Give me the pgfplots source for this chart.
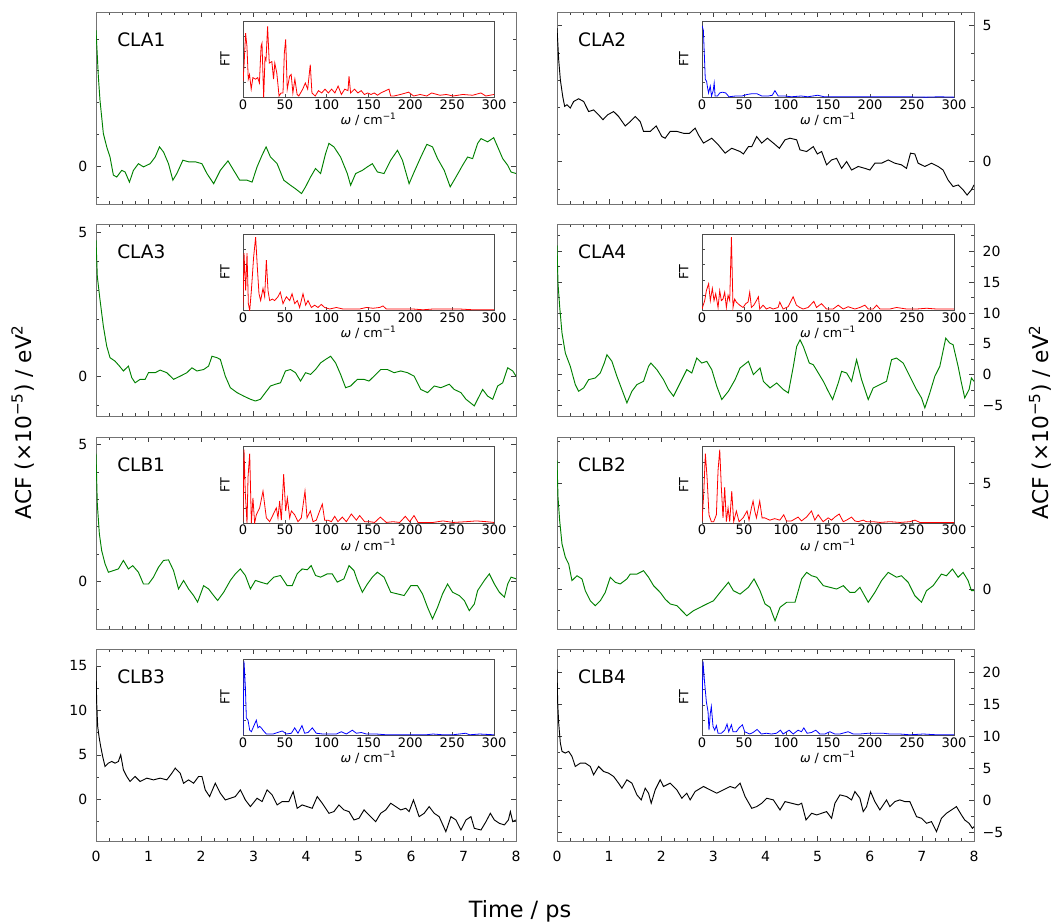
\documentclass[border=0pt]{standalone}
\usepackage{fontspec}
\setmainfont{DejaVu Sans}
\usepackage{pgfplots}
\pgfplotsset{compat=1.18}

\definecolor{mplgreen}{RGB}{0,128,0}
\definecolor{framegray}{gray}{0.45}

\tikzset{plabel/.style={anchor=base west, inner sep=0pt, font=\fontsize{13.9}{16}\selectfont}}

\pgfplotsset{
  panel/.style={
    scale only axis, height=144pt, anchor=north west,
    xmin=0, xmax=8, xtick={0,...,8}, minor x tick num=3,
    tick align=inside,
    major tick length=3.5pt, minor tick length=2pt,
    axis line style={framegray}, every tick/.style={black!75},
    tick label style={font=\fontsize{10.5}{12}\selectfont},
    /pgf/number format/assume math mode=true,
    xticklabels={},
  },
  lcol/.style={panel, width=315pt, yticklabel pos=left, ytick pos=both, xtick pos=both,
    yticklabel style={xshift=-3pt}},
  rcol/.style={panel, width=312.75pt, yticklabel pos=right, ytick pos=both, xtick pos=both,
    yticklabel style={xshift=3pt}},
  bottomrow/.style={xticklabels={0,1,2,3,4,5,6,7,8}, xticklabel style={yshift=-4pt}},
  inset/.style={
    scale only axis, height=57.4pt, anchor=north west,
    xmin=0, xmax=300, ymin=0, ymax=1,
    xtick={0,50,...,300}, ytick={0.2,0.4,0.6,0.8}, yticklabels={},
    tick align=inside, xtick pos=bottom, ytick pos=left, major tick length=2.5pt,
    axis line style={black!70}, every tick/.style={black!70},
    axis background/.style={fill=white},
    tick label style={font=\fontsize{9.8}{11}\selectfont},
    /pgf/number format/assume math mode=true,
    xticklabel style={inner sep=1.2pt},
    xlabel={\textit{ω} / cm\textsuperscript{−1}},
    ylabel={FT},
    label style={font=\fontsize{9.5}{11}\selectfont},
    xlabel style={at={(axis description cs:0.5,-0.29)}, anchor=center},
    ylabel style={at={(axis description cs:-0.035,0.5)}, anchor=south},
  },
  linset/.style={inset, width=188.25pt},
  rinset/.style={inset, width=189pt},
}

\begin{document}
\begin{tikzpicture}
\path[use as bounding box] (0,0) rectangle (796.5pt,-691.5pt);

% ---------------- row 1 ----------------
\begin{axis}[lcol, at={(72pt,-9pt)}, ymin=-1.2, ymax=4.85, ytick={0,5}, minor ytick={-1,1,2,3,4}]
\addplot[mplgreen, line width=0.7pt] coordinates {
(0.000,4.28)(0.045,2.81)(0.076,2.07)(0.140,1.02)(0.204,0.60)(0.267,0.28)(0.331,-0.29)(0.395,-0.35)
(0.490,-0.14)(0.554,-0.19)(0.637,-0.51)(0.713,-0.14)(0.808,0.07)(0.904,-0.03)(1.031,0.07)(1.127,0.28)
(1.209,0.60)(1.286,0.44)(1.381,0.07)(1.464,-0.45)(1.540,-0.24)(1.655,0.18)(1.763,0.13)(1.891,0.13)
(2.018,0.07)(2.113,-0.24)(2.241,-0.56)(2.368,-0.14)(2.514,0.16)(2.623,-0.14)(2.737,-0.45)(2.877,-0.45)
(2.973,-0.51)(3.068,-0.03)(3.164,0.34)(3.240,0.60)(3.323,0.28)(3.450,0.07)(3.577,-0.45)(3.705,-0.61)
(3.800,-0.72)(3.915,-0.87)(3.991,-0.66)(4.087,-0.35)(4.182,-0.08)(4.278,-0.24)(4.373,0.39)(4.437,0.71)
(4.532,0.60)(4.659,0.28)(4.787,-0.24)(4.850,-0.61)(4.946,-0.24)(5.073,-0.14)(5.169,-0.03)(5.264,0.07)
(5.360,-0.19)(5.487,-0.24)(5.614,0.18)(5.742,0.49)(5.837,0.18)(5.964,-0.56)(6.060,-0.19)(6.187,0.28)
(6.302,0.68)(6.410,0.60)(6.506,0.23)(6.633,-0.14)(6.747,-0.66)(6.856,-0.35)(6.983,0.02)(7.078,0.28)
(7.174,0.23)(7.269,0.71)(7.333,0.86)(7.460,0.76)(7.575,0.89)(7.651,0.60)(7.747,0.23)(7.842,0.02)
(7.906,-0.19)(8.000,-0.24)};
\node[plabel] at (axis description cs:0.05,0.818) {CLA1};
\end{axis}
\begin{axis}[linset, at={(182.25pt,-15.75pt)}]
\addplot[red, line width=0.6pt] coordinates {
(0,0.21)(1.2,0.41)(3.1,0.84)(4.7,0.67)(6.3,0.24)(7.8,0.30)(9.8,0.11)(11.8,0.26)(14.9,0.24)(17.6,0.26)
(19.6,0.19)(21.6,0.67)(22.7,0.71)(24.7,0.00)(26.3,0.52)(27.5,0.49)(29.4,0.93)(31.4,0.45)(34.5,0.47)
(36.5,0.24)(38.0,0.45)(40.4,0.32)(43.1,0.02)(45.5,0.06)(47.8,0.06)(49.4,0.58)(51.0,0.76)(52.9,0.11)
(55.7,0.28)(57.6,0.30)(59.6,0.06)(62.0,0.24)(64.7,0.04)(66.7,0.02)(71.4,0.11)(74.5,0.19)(77.3,0.11)
(80.4,0.43)(82.4,0.06)(86.3,0.02)(90.2,0.09)(94.1,0.06)(98.0,0.11)(102.0,0.06)(105.9,0.11)(109.8,0.06)
(113.7,0.15)(117.6,0.04)(121.6,0.11)(125.5,0.09)(126.7,0.28)(128.6,0.06)(133.3,0.11)(137.3,0.06)
(141.2,0.09)(145.1,0.04)(149.0,0.06)(152.9,0.04)(156.9,0.06)(160.8,0.03)(164.7,0.06)(174.5,0.11)
(176.5,0.02)(180.4,0.02)(188.2,0.04)(198.0,0.07)(203.9,0.02)(211.8,0.04)(219.6,0.02)(225.5,0.06)
(235.3,0.03)(243.1,0.04)(251.0,0.02)(262.7,0.04)(274.5,0.03)(284.3,0.06)(290.2,0.02)(300.0,0.04)};
\end{axis}

\begin{axis}[rcol, at={(417.75pt,-9pt)}, ymin=-1.56, ymax=5.5, ytick={0,5}, minor ytick={-1,1,2,3,4}]
\addplot[black, line width=0.7pt] coordinates {
(0.000,4.91)(0.032,3.75)(0.064,3.01)(0.109,2.40)(0.147,2.03)(0.192,2.09)(0.255,1.97)(0.319,2.21)
(0.415,2.31)(0.511,2.21)(0.607,1.84)(0.702,1.90)(0.798,1.72)(0.881,1.54)(0.971,1.72)(1.086,1.84)
(1.181,1.66)(1.309,1.31)(1.405,1.47)(1.501,1.66)(1.596,1.47)(1.660,1.11)(1.788,1.11)(1.903,1.31)
(2.011,0.92)(2.075,0.86)(2.171,1.11)(2.299,1.11)(2.427,1.04)(2.542,1.04)(2.650,1.23)(2.714,0.98)
(2.810,0.68)(2.969,0.86)(3.097,0.61)(3.225,0.31)(3.352,0.49)(3.512,0.37)(3.576,0.28)(3.672,0.55)
(3.736,0.55)(3.831,0.92)(3.927,0.68)(4.036,0.86)(4.151,0.68)(4.266,0.49)(4.374,0.80)(4.470,0.86)
(4.598,0.80)(4.662,0.43)(4.789,0.37)(4.917,0.55)(4.994,0.28)(5.077,0.37)(5.172,-0.12)(5.268,0.06)
(5.364,0.12)(5.460,-0.25)(5.556,0.00)(5.651,-0.31)(5.779,-0.18)(5.907,-0.25)(6.003,-0.31)(6.098,-0.06)
(6.226,-0.06)(6.354,0.06)(6.482,-0.06)(6.609,-0.12)(6.705,-0.25)(6.782,0.31)(6.865,0.28)(6.928,-0.06)
(7.056,-0.18)(7.184,-0.06)(7.312,-0.18)(7.407,-0.31)(7.503,-0.68)(7.599,-0.92)(7.695,-0.86)(7.791,-1.04)
(7.867,-1.23)(7.950,-1.04)(8.000,-0.86)};
\node[plabel] at (axis description cs:0.05,0.818) {CLA2};
\end{axis}
\begin{axis}[rinset, at={(526.5pt,-15.75pt)}]
\addplot[blue, line width=0.6pt] coordinates {
(0,0.94)(1.6,0.88)(2.7,0.58)(3.9,0.24)(5.5,0.21)(6.6,0.13)(7.8,0.06)(9.8,0.15)(11.3,0.02)(13.3,0.09)
(14.5,0.19)(15.6,0.02)(18.4,0.02)(21.1,0.06)(24.2,0.07)(28.2,0.06)(32.1,0.01)(39.9,0.02)(47.7,0.02)
(53.6,0.04)(59.4,0.05)(65.3,0.05)(71.2,0.02)(79.0,0.02)(83.7,0.03)(86.8,0.09)(90.7,0.02)(98.6,0.02)
(106.4,0.01)(118.1,0.02)(125.9,0.01)(137.7,0.03)(145.5,0.01)(165.0,0.01)(184.6,0.01)(204.1,0.01)
(223.7,0.01)(243.3,0.01)(266.7,0.005)(282.4,0.01)(300,0.005)};
\end{axis}

% ---------------- row 2 ----------------
\begin{axis}[lcol, at={(72pt,-168pt)}, ymin=-1.36, ymax=5.29, ytick={0,5}, minor ytick={-1,1,2,3,4}]
\addplot[mplgreen, line width=0.7pt] coordinates {
(0.000,4.74)(0.025,3.47)(0.076,2.67)(0.140,1.75)(0.204,1.06)(0.267,0.66)(0.363,0.54)(0.446,0.37)
(0.522,0.20)(0.617,0.37)(0.681,-0.03)(0.745,-0.21)(0.840,-0.09)(0.936,-0.09)(0.999,0.14)(1.127,0.14)
(1.222,0.23)(1.349,0.14)(1.477,-0.09)(1.604,0.02)(1.731,0.14)(1.827,0.31)(1.922,0.20)(2.050,0.25)
(2.145,0.37)(2.209,0.71)(2.304,0.66)(2.368,0.60)(2.463,0.02)(2.559,-0.38)(2.686,-0.55)(2.813,-0.67)
(2.941,-0.78)(3.036,-0.84)(3.132,-0.78)(3.227,-0.55)(3.323,-0.32)(3.418,-0.26)(3.514,-0.21)(3.609,0.20)
(3.705,0.25)(3.800,0.14)(3.896,-0.15)(3.991,0.14)(4.087,0.08)(4.182,0.25)(4.278,0.48)(4.373,0.60)
(4.469,0.71)(4.564,0.48)(4.659,0.08)(4.755,-0.38)(4.850,-0.32)(4.978,-0.09)(5.105,-0.09)(5.200,-0.15)
(5.296,0.02)(5.423,0.25)(5.551,0.25)(5.678,0.14)(5.805,0.20)(5.933,0.14)(6.060,0.02)(6.187,-0.44)
(6.315,-0.55)(6.442,-0.32)(6.569,-0.38)(6.728,-0.26)(6.824,-0.44)(6.951,-0.55)(7.047,-0.78)(7.206,-1.01)
(7.269,-0.78)(7.365,-0.44)(7.460,-0.67)(7.556,-0.78)(7.651,-0.32)(7.747,-0.21)(7.842,0.31)(7.938,0.20)
(8.000,0.02)};
\node[plabel] at (axis description cs:0.05,0.818) {CLA3};
\end{axis}
\begin{axis}[linset, at={(182.25pt,-175.5pt)}]
\addplot[red, line width=0.6pt] coordinates {
(0,0.04)(1.2,0.75)(3.2,0.26)(4.8,0.75)(6.4,0.09)(8.0,0.00)(10.0,0.26)(12.7,0.70)(15.1,0.96)(17.1,0.57)
(19.1,0.22)(21.1,0.13)(23.9,0.29)(25.9,0.18)(27.9,0.66)(29.9,0.26)(31.9,0.13)(35.1,0.15)(37.8,0.13)
(41.8,0.18)(44.6,0.24)(47.8,0.09)(51.8,0.18)(55.8,0.13)(58.6,0.22)(61.8,0.09)(64.9,0.13)(67.7,0.04)
(71.7,0.22)(74.9,0.07)(77.7,0.13)(81.7,0.04)(85.7,0.07)(89.6,0.04)(93.6,0.08)(97.6,0.04)(103.6,0.02)
(111.6,0.04)(119.5,0.02)(131.5,0.02)(139.4,0.02)(147.4,0.04)(155.4,0.03)(163.3,0.04)(167.3,0.06)
(171.3,0.02)(179.3,0.02)(191.2,0.02)(203.2,0.02)(215.1,0.01)(227.1,0.02)(243.0,0.02)(259.0,0.02)
(274.9,0.01)(300,0.01)};
\end{axis}

\begin{axis}[rcol, at={(417.75pt,-168pt)}, ymin=-6.7, ymax=24.4, ytick={-5,0,5,10,15,20},
  yticklabels={−5,0,5,10,15,20}, minor ytick={-2.5,2.5,7.5,12.5,17.5,22.5}]
\addplot[mplgreen, line width=0.7pt] coordinates {
(0.000,20.97)(0.019,14.78)(0.051,11.02)(0.096,6.72)(0.160,3.49)(0.255,1.34)(0.351,-1.61)(0.415,-2.69)
(0.511,-2.15)(0.607,-0.81)(0.734,-0.54)(0.830,0.27)(0.907,1.88)(0.958,3.23)(1.054,2.15)(1.149,-0.27)
(1.245,-2.42)(1.341,-4.57)(1.437,-2.69)(1.533,-1.61)(1.660,-1.08)(1.756,1.34)(1.801,1.88)(1.916,0.81)
(2.043,-0.81)(2.139,-2.42)(2.235,-3.49)(2.363,-1.34)(2.490,0.81)(2.586,0.27)(2.682,2.69)(2.778,1.88)
(2.874,2.15)(2.969,0.81)(3.065,-1.88)(3.161,-4.03)(3.289,-2.69)(3.416,-0.81)(3.512,1.08)(3.672,2.15)
(3.768,0.00)(3.895,1.08)(3.959,-1.08)(4.087,-2.15)(4.215,-1.34)(4.342,-2.42)(4.438,-2.96)(4.534,1.34)
(4.598,4.57)(4.662,5.65)(4.725,4.57)(4.840,1.88)(4.917,1.61)(5.013,0.27)(5.109,-1.08)(5.204,-2.69)
(5.287,-4.03)(5.396,-1.34)(5.460,0.54)(5.556,0.27)(5.651,-1.08)(5.747,2.42)(5.843,-0.81)(5.971,-4.03)
(6.066,-2.15)(6.194,-1.61)(6.322,-1.08)(6.418,2.42)(6.513,2.69)(6.641,1.88)(6.769,-0.27)(6.897,-2.42)
(6.992,-3.76)(7.056,-5.38)(7.152,-2.96)(7.248,-0.27)(7.344,1.34)(7.458,5.91)(7.535,5.11)(7.599,4.84)
(7.695,1.34)(7.759,-1.34)(7.822,-3.76)(7.905,-2.42)(7.950,-0.54)(8.000,-1.08)};
\node[plabel] at (axis description cs:0.05,0.818) {CLA4};
\end{axis}
\begin{axis}[rinset, at={(526.5pt,-175.5pt)}]
\addplot[red, line width=0.6pt] coordinates {
(0,0.02)(3.2,0.13)(5.2,0.26)(7.9,0.35)(9.9,0.13)(12.3,0.29)(14.3,0.13)(16.3,0.22)(19.1,0.04)(21.1,0.26)
(23.0,0.13)(25.0,0.15)(27.0,0.24)(29.0,0.04)(31.0,0.20)(33.0,0.13)(35.0,0.96)(36.9,0.04)(38.9,0.15)
(40.9,0.11)(44.9,0.07)(48.9,0.04)(52.0,0.09)(54.8,0.11)(56.8,0.24)(58.8,0.04)(61.6,0.07)(64.8,0.13)
(67.1,0.18)(68.7,0.02)(72.7,0.07)(76.7,0.02)(80.7,0.04)(84.6,0.02)(90.6,0.04)(92.6,0.11)(96.5,0.02)
(102.5,0.05)(108.5,0.18)(112.4,0.07)(116.4,0.04)(120.4,0.02)(126.3,0.04)(133.1,0.12)(136.3,0.04)
(142.2,0.09)(148.2,0.02)(156.1,0.02)(162.1,0.07)(168.1,0.02)(174.0,0.05)(182.0,0.02)(187.9,0.04)
(193.9,0.07)(197.9,0.02)(203.8,0.02)(207.8,0.07)(211.8,0.02)(223.7,0.02)(231.6,0.04)(243.5,0.02)
(255.5,0.02)(267.4,0.03)(279.3,0.02)(300,0.02)};
\end{axis}

% ---------------- row 3 ----------------
\begin{axis}[lcol, at={(72pt,-327.75pt)}, ymin=-1.73, ymax=5.27, ytick={0,5}, minor ytick={-1,1,2,3,4}]
\addplot[mplgreen, line width=0.7pt] coordinates {
(0.000,4.66)(0.025,2.82)(0.064,1.74)(0.108,1.13)(0.172,0.65)(0.236,0.34)(0.331,0.40)(0.426,0.46)
(0.522,0.77)(0.617,0.46)(0.700,0.58)(0.808,0.34)(0.904,-0.09)(0.999,-0.09)(1.095,0.16)(1.190,0.52)
(1.286,0.77)(1.381,0.79)(1.477,0.40)(1.572,-0.27)(1.668,0.04)(1.763,-0.27)(1.859,-0.51)(1.935,-0.75)
(2.050,-0.15)(2.145,-0.27)(2.241,-0.51)(2.317,-0.69)(2.432,-0.39)(2.559,0.04)(2.654,0.28)(2.750,0.46)
(2.845,0.22)(2.941,-0.27)(3.036,0.04)(3.132,-0.02)(3.259,-0.09)(3.386,0.16)(3.514,0.22)(3.641,-0.15)
(3.737,-0.15)(3.832,0.28)(3.927,0.46)(4.023,0.43)(4.099,0.58)(4.182,0.22)(4.278,0.16)(4.405,0.28)
(4.500,0.28)(4.596,-0.02)(4.723,0.10)(4.819,0.58)(4.914,0.40)(4.978,0.04)(5.073,-0.39)(5.169,-0.09)
(5.264,0.16)(5.360,0.34)(5.487,0.16)(5.614,-0.39)(5.742,-0.45)(5.869,-0.51)(5.996,-0.15)(6.123,-0.15)
(6.219,-0.45)(6.315,-0.94)(6.410,-1.36)(6.506,-0.94)(6.601,-0.45)(6.696,-0.09)(6.792,-0.39)(6.919,-0.51)
(7.015,-0.69)(7.110,-1.06)(7.206,-0.82)(7.269,-0.33)(7.397,0.04)(7.492,0.28)(7.588,-0.09)(7.683,-0.39)
(7.779,-0.57)(7.842,-0.09)(7.906,0.16)(8.000,0.10)};
\node[plabel] at (axis description cs:0.05,0.818) {CLB1};
\end{axis}
\begin{axis}[linset, at={(182.25pt,-335pt)}]
\addplot[red, line width=0.6pt] coordinates {
(0,0.02)(1.2,0.96)(2.8,0.38)(4.8,0.00)(6.0,0.60)(8.0,0.91)(10.0,0.00)(11.9,0.33)(13.9,0.00)(15.9,0.11)
(19.9,0.20)(23.9,0.42)(25.9,0.24)(27.9,0.07)(31.9,0.02)(35.9,0.11)(39.8,0.20)(41.8,0.07)(43.8,0.29)
(45.8,0.04)(48.6,0.64)(51.0,0.16)(53.0,0.33)(55.8,0.07)(57.8,0.16)(61.8,0.11)(65.7,0.02)(69.7,0.07)
(74.1,0.42)(76.5,0.07)(80.5,0.16)(83.7,0.02)(87.6,0.04)(91.6,0.16)(94.8,0.25)(97.6,0.04)(101.6,0.04)
(105.6,0.02)(109.6,0.09)(113.5,0.02)(118.7,0.08)(123.5,0.02)(129.5,0.12)(135.5,0.04)(139.4,0.10)
(145.4,0.02)(151.4,0.02)(157.4,0.01)(164.1,0.08)(171.3,0.01)(179.3,0.02)(187.3,0.01)(194.0,0.09)
(199.2,0.02)(204.4,0.10)(209.2,0.01)(219.1,0.01)(227.1,0.01)(239.0,0.03)(251.0,0.01)(266.9,0.02)
(278.9,0.03)(290.8,0.02)(300,0.01)};
\end{axis}

\begin{axis}[rcol, at={(417.75pt,-327.75pt)}, ymin=-1.9, ymax=7.22, ytick={0,5}, minor ytick={-1,1,2,3,4,6,7}]
\addplot[mplgreen, line width=0.7pt] coordinates {
(0.000,6.11)(0.019,4.37)(0.051,3.25)(0.096,2.14)(0.160,1.51)(0.224,1.19)(0.287,0.40)(0.383,0.63)
(0.479,0.48)(0.543,-0.08)(0.639,-0.56)(0.734,-0.79)(0.830,-0.56)(0.926,-0.16)(1.022,0.56)(1.117,0.32)
(1.213,0.24)(1.341,0.48)(1.405,0.71)(1.533,0.71)(1.660,0.87)(1.756,0.56)(1.852,0.16)(1.980,-0.16)
(2.075,-0.48)(2.171,-0.71)(2.299,-0.79)(2.395,-1.03)(2.490,-1.27)(2.618,-1.03)(2.746,-0.87)(2.874,-0.71)
(3.001,-0.56)(3.129,-0.16)(3.289,0.32)(3.384,-0.08)(3.512,-0.24)(3.672,0.08)(3.780,0.48)(3.895,-0.08)
(3.991,-0.71)(4.087,-0.87)(4.183,-1.51)(4.278,-0.87)(4.406,-0.63)(4.566,-0.63)(4.693,0.48)(4.789,0.79)
(4.885,0.63)(4.981,0.56)(5.109,0.16)(5.236,0.08)(5.364,0.00)(5.492,0.16)(5.619,-0.16)(5.715,-0.16)
(5.811,0.08)(5.971,-0.63)(6.098,-0.16)(6.226,0.40)(6.354,0.79)(6.513,0.56)(6.609,0.63)(6.737,0.32)
(6.865,-0.32)(6.992,-0.63)(7.088,-0.08)(7.216,0.16)(7.375,0.71)(7.471,0.63)(7.586,0.95)(7.695,0.56)
(7.791,0.79)(7.886,0.40)(7.950,-0.08)(8.000,-0.08)};
\node[plabel] at (axis description cs:0.05,0.818) {CLB2};
\end{axis}
\begin{axis}[rinset, at={(526.5pt,-335pt)}]
\addplot[red, line width=0.6pt] coordinates {
(0,0.02)(2.0,0.38)(4.0,0.91)(6.0,0.60)(8.3,0.11)(11.1,0.02)(13.9,0.02)(17.1,0.11)(19.1,0.69)(21.1,0.96)
(23.0,0.47)(25.0,0.07)(27.0,0.47)(29.0,0.02)(31.0,0.20)(33.0,0.02)(35.4,0.42)(37.7,0.02)(40.9,0.16)
(44.1,0.02)(48.9,0.07)(53.6,0.16)(56.0,0.04)(58.8,0.20)(60.8,0.29)(62.8,0.16)(64.8,0.07)(68.7,0.29)
(71.5,0.07)(74.7,0.07)(80.7,0.04)(86.6,0.06)(92.6,0.04)(97.3,0.11)(100.5,0.03)(106.5,0.03)(114.4,0.08)
(118.4,0.03)(124.4,0.08)(130.3,0.16)(134.3,0.04)(138.3,0.11)(144.2,0.02)(150.2,0.07)(154.2,0.04)
(158.1,0.08)(163.3,0.12)(168.1,0.02)(172.0,0.04)(178.0,0.08)(182.0,0.03)(185.9,0.02)(191.9,0.04)
(195.9,0.02)(203.8,0.02)(211.8,0.01)(223.7,0.02)(235.6,0.01)(247.5,0.02)(253.5,0.04)(259.4,0.01)
(271.4,0.01)(283.3,0.01)(300,0.01)};
\end{axis}

% ---------------- row 4 ----------------
\begin{axis}[lcol, bottomrow, at={(72pt,-486.75pt)}, ymin=-4.7, ymax=16.9, ytick={0,5,10,15},
  minor ytick={-2.5,2.5,7.5,12.5}]
\addplot[black, line width=0.7pt] coordinates {
(0.000,14.96)(0.013,10.83)(0.032,8.20)(0.057,7.07)(0.089,5.94)(0.127,4.81)(0.172,3.68)(0.236,4.06)
(0.299,4.25)(0.363,4.06)(0.426,4.25)(0.471,5.00)(0.522,3.31)(0.586,2.56)(0.649,2.00)(0.745,2.56)
(0.840,2.00)(0.968,2.37)(1.095,2.18)(1.222,2.37)(1.349,2.18)(1.445,2.93)(1.509,3.50)(1.604,2.93)
(1.668,1.80)(1.763,2.18)(1.859,1.80)(1.954,2.56)(2.018,2.56)(2.081,1.05)(2.164,0.30)(2.272,1.80)
(2.368,0.68)(2.463,-0.08)(2.559,0.11)(2.654,0.30)(2.750,1.05)(2.845,-0.08)(2.941,-0.83)(3.068,0.11)
(3.164,-0.26)(3.259,1.05)(3.355,0.49)(3.450,-0.64)(3.546,-0.26)(3.673,-0.26)(3.756,0.86)(3.832,-1.02)
(3.927,-0.64)(4.023,-0.83)(4.118,-1.02)(4.214,0.30)(4.309,-0.45)(4.437,-1.58)(4.532,-1.39)(4.628,-0.64)
(4.723,-1.20)(4.819,-1.39)(4.914,-2.33)(5.010,-2.14)(5.105,-1.20)(5.200,-1.77)(5.328,-2.52)(5.423,-1.58)
(5.519,-1.20)(5.614,-0.45)(5.710,-0.83)(5.805,-1.20)(5.901,-1.02)(5.964,-1.39)(6.047,-0.08)(6.155,-1.96)
(6.251,-1.58)(6.346,-0.83)(6.442,-1.58)(6.537,-1.96)(6.664,-3.65)(6.760,-1.96)(6.856,-2.33)(6.951,-3.46)
(7.047,-2.33)(7.142,-1.96)(7.206,-3.27)(7.333,-3.46)(7.428,-2.52)(7.511,-1.58)(7.588,-2.33)(7.683,-2.71)
(7.779,-2.89)(7.855,-2.33)(7.893,-1.39)(7.938,-2.52)(8.000,-2.33)};
\node[plabel] at (axis description cs:0.05,0.818) {CLB3};
\end{axis}
\begin{axis}[linset, at={(182.25pt,-494.25pt)}]
\addplot[blue, line width=0.6pt] coordinates {
(0,0.01)(1.2,0.97)(2.8,0.64)(4.0,0.23)(6.0,0.20)(8.0,0.07)(10.0,0.05)(12.7,0.12)(15.9,0.20)(17.9,0.10)
(19.9,0.12)(21.9,0.10)(23.9,0.07)(27.9,0.02)(35.9,0.02)(47.0,0.06)(51.8,0.02)(57.8,0.03)(61.8,0.10)
(65.7,0.03)(70.5,0.13)(73.7,0.03)(77.7,0.04)(82.9,0.10)(87.6,0.03)(95.6,0.02)(103.6,0.02)(111.6,0.02)
(117.5,0.05)(123.5,0.02)(130.7,0.07)(135.5,0.03)(141.4,0.04)(147.4,0.02)(159.4,0.02)(171.3,0.01)
(187.3,0.01)(203.2,0.01)(219.1,0.01)(227.1,0.02)(239.0,0.01)(251.0,0.01)(266.1,0.03)(270.9,0.01)
(282.9,0.02)(300,0.01)};
\end{axis}

\begin{axis}[rcol, bottomrow, at={(417.75pt,-486.75pt)}, ymin=-6.3, ymax=23.6, ytick={-5,0,5,10,15,20},
  yticklabels={−5,0,5,10,15,20}, minor ytick={-2.5,2.5,7.5,12.5,17.5,22.5}]
\addplot[black, line width=0.7pt] coordinates {
(0.000,20.42)(0.013,15.21)(0.032,12.08)(0.064,8.96)(0.096,7.66)(0.160,7.40)(0.224,7.66)(0.287,6.88)
(0.351,5.31)(0.447,5.83)(0.543,5.83)(0.639,5.31)(0.702,4.01)(0.798,5.31)(0.894,4.53)(0.990,4.27)
(1.086,3.75)(1.181,2.71)(1.245,1.93)(1.341,3.23)(1.437,2.71)(1.533,0.89)(1.616,0.10)(1.692,1.93)
(1.756,1.15)(1.807,-0.42)(1.884,1.67)(1.980,3.23)(2.043,2.19)(2.171,2.71)(2.299,1.67)(2.395,0.36)
(2.490,1.15)(2.554,0.10)(2.650,1.41)(2.810,2.19)(2.937,1.67)(3.065,1.15)(3.193,1.67)(3.321,2.19)
(3.416,1.93)(3.512,2.71)(3.608,0.63)(3.736,-1.20)(3.831,-0.94)(3.927,-0.42)(4.023,0.36)(4.151,0.10)
(4.278,-1.46)(4.374,-0.16)(4.502,-0.42)(4.630,-0.68)(4.694,-0.42)(4.777,-3.02)(4.885,-1.98)(4.981,-2.24)
(5.077,-1.98)(5.172,-1.72)(5.268,-2.76)(5.332,-0.42)(5.428,0.89)(5.556,0.63)(5.651,0.10)(5.715,1.41)
(5.811,0.36)(5.875,-1.72)(5.939,-0.94)(6.015,1.41)(6.098,-0.16)(6.194,-1.46)(6.322,0.10)(6.386,-0.94)
(6.482,-0.16)(6.577,0.10)(6.673,-0.16)(6.769,-0.16)(6.897,-2.50)(6.992,-2.76)(7.088,-3.54)(7.184,-3.28)
(7.280,-4.84)(7.375,-2.76)(7.471,-1.98)(7.567,-1.46)(7.663,-0.94)(7.759,-2.24)(7.822,-3.02)(7.905,-3.54)
(7.969,-4.32)(8.000,-4.06)};
\node[plabel] at (axis description cs:0.05,0.818) {CLB4};
\end{axis}
\begin{axis}[rinset, at={(526.5pt,-494.25pt)}]
\addplot[blue, line width=0.6pt] coordinates {
(0,0.38)(1.2,0.97)(2.8,0.73)(5.2,0.44)(7.2,0.31)(8.3,0.07)(9.9,0.29)(11.1,0.38)(13.1,0.12)(15.1,0.07)
(17.1,0.13)(19.1,0.03)(23.0,0.03)(27.0,0.07)(29.8,0.15)(31.8,0.05)(35.0,0.14)(36.9,0.05)(40.9,0.05)
(44.1,0.10)(48.1,0.14)(50.8,0.05)(56.8,0.02)(60.8,0.04)(65.6,0.08)(70.7,0.02)(76.7,0.03)(82.6,0.02)
(88.6,0.03)(93.4,0.07)(96.5,0.02)(103.7,0.07)(108.5,0.02)(114.4,0.07)(118.4,0.05)(121.2,0.10)
(125.1,0.03)(130.3,0.04)(135.5,0.07)(140.2,0.02)(146.2,0.02)(152.2,0.05)(158.1,0.02)(164.1,0.02)
(174.0,0.05)(180.0,0.02)(187.9,0.02)(197.9,0.03)(207.8,0.03)(215.7,0.03)(223.7,0.02)(235.6,0.02)
(247.5,0.01)(263.4,0.02)(279.3,0.01)(300,0.01)};
\end{axis}

% ---------------- common labels ----------------
\node[rotate=90, font=\fontsize{16.3}{19}\selectfont] at (17pt,-316.5pt) {ACF (×10\textsuperscript{−5}) / eV\textsuperscript{2}};
\node[rotate=90, font=\fontsize{16.3}{19}\selectfont] at (780pt,-316.5pt) {ACF (×10\textsuperscript{−5}) / eV\textsuperscript{2}};
\node[anchor=base, font=\fontsize{16.8}{19}\selectfont] at (390pt,-688pt) {Time / ps};
\end{tikzpicture}
\end{document}
